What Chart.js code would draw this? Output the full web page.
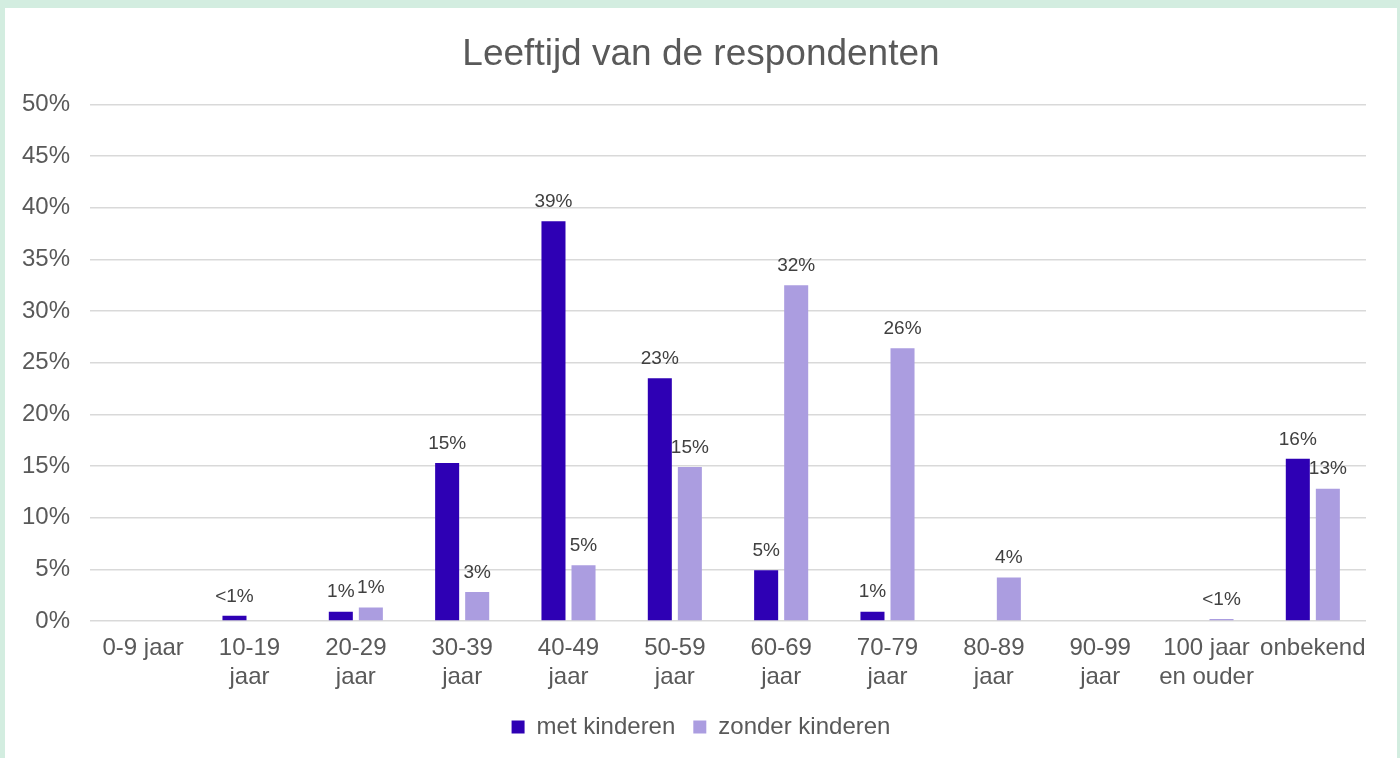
<!DOCTYPE html>
<html>
<head>
<meta charset="utf-8">
<script src="https://cdn.jsdelivr.net/npm/chart.js@4.4.0/dist/chart.umd.min.js"></script>
<style>
  html, body { margin: 0; padding: 0; }
  body { background: #d3ede0; width: 1400px; height: 758px; position: relative; overflow: hidden; }
  #wrap { position: absolute; left: 5px; top: 8px; width: 1392px; height: 750px; background: #fff; }
</style>
</head>
<body>
<div id="wrap"><canvas id="ageChart"></canvas></div>
<script>
const categories = [
    ['0-9 jaar'], ['10-19', 'jaar'], ['20-29', 'jaar'], ['30-39', 'jaar'],
    ['40-49', 'jaar'], ['50-59', 'jaar'], ['60-69', 'jaar'], ['70-79', 'jaar'],
    ['80-89', 'jaar'], ['90-99', 'jaar'], ['100 jaar', 'en ouder'], ['onbekend']
];
const metKinderen = [null, 0.5, 0.9, 15.3, 38.7, 23.5, 4.9, 0.9, null, null, null, 15.7];
const zonderKinderen = [null, null, 1.3, 2.8, 5.4, 14.9, 32.5, 26.4, 4.2, null, 0.2, 12.8];
const metLabels = ['', '<1%', '1%', '15%', '39%', '23%', '5%', '1%', '', '', '', '16%'];
const zonderLabels = ['', '', '1%', '3%', '5%', '15%', '32%', '26%', '4%', '', '<1%', '13%'];

const textColor = '#595959';
const font = "'Liberation Sans', Arial, sans-serif";

// draws the value labels above each bar
const barLabels = {
    id: 'barLabels',
    afterDatasetsDraw(chart) {
        const ctx = chart.ctx;
        const texts = [metLabels, zonderLabels];
        ctx.save();
        ctx.font = '19px ' + font;
        ctx.fillStyle = '#404040';
        ctx.textAlign = 'center';
        ctx.textBaseline = 'bottom';
        chart.data.datasets.forEach(function (ds, i) {
            const meta = chart.getDatasetMeta(i);
            meta.data.forEach(function (bar, j) {
                if (ds.data[j] == null || !texts[i][j]) return;
                ctx.fillText(texts[i][j], bar.x, bar.y - 10);
            });
        });
        ctx.restore();
    }
};

new Chart(document.getElementById('ageChart'), {
    type: 'bar',
    data: {
        labels: categories,
        datasets: [{
            label: 'met kinderen',
            data: metKinderen,
            backgroundColor: '#2e00b4',
            barPercentage: 0.8,
            categoryPercentage: 0.565
        }, {
            label: 'zonder kinderen',
            data: zonderKinderen,
            backgroundColor: '#ab9de0',
            barPercentage: 0.8,
            categoryPercentage: 0.565
        }]
    },
    plugins: [barLabels],
    options: {
        responsive: true,
        maintainAspectRatio: false,
        animation: false,
        layout: { padding: { left: 0, right: 0, top: 0, bottom: 9 } },
        plugins: {
            title: {
                display: true,
                text: 'Leeftijd van de respondenten',
                color: textColor,
                font: { family: font, size: 37, weight: 'normal' },
                padding: { top: 25, bottom: 27 }
            },
            legend: {
                position: 'bottom',
                labels: {
                    color: textColor,
                    font: { family: font, size: 24 },
                    boxWidth: 13,
                    boxHeight: 13,
                    padding: 18
                }
            },
            tooltip: { enabled: false }
        },
        scales: {
            x: {
                afterFit: function (scale) { scale.height = 76; },
                grid: { display: false },
                border: { display: false },
                ticks: {
                    color: textColor,
                    font: { family: font, size: 24, lineHeight: 1.21 },
                    maxRotation: 0,
                    autoSkip: false,
                    padding: 5
                }
            },
            y: {
                min: 0,
                max: 50,
                afterFit: function (scale) { scale.width = 85; },
                border: { display: false },
                grid: { color: '#d9d9d9', lineWidth: 1.5, drawTicks: false },
                ticks: {
                    stepSize: 5,
                    color: textColor,
                    font: { family: font, size: 24 },
                    padding: 20,
                    callback: function (value) { return value + '%'; }
                }
            },
            // empty right margin, keeps title and legend centred on the whole box
            yRight: {
                position: 'right',
                afterFit: function (scale) { scale.width = 31; },
                border: { display: false },
                grid: { display: false, drawOnChartArea: false },
                ticks: { display: false }
            }
        }
    }
});
</script>
</body>
</html>
